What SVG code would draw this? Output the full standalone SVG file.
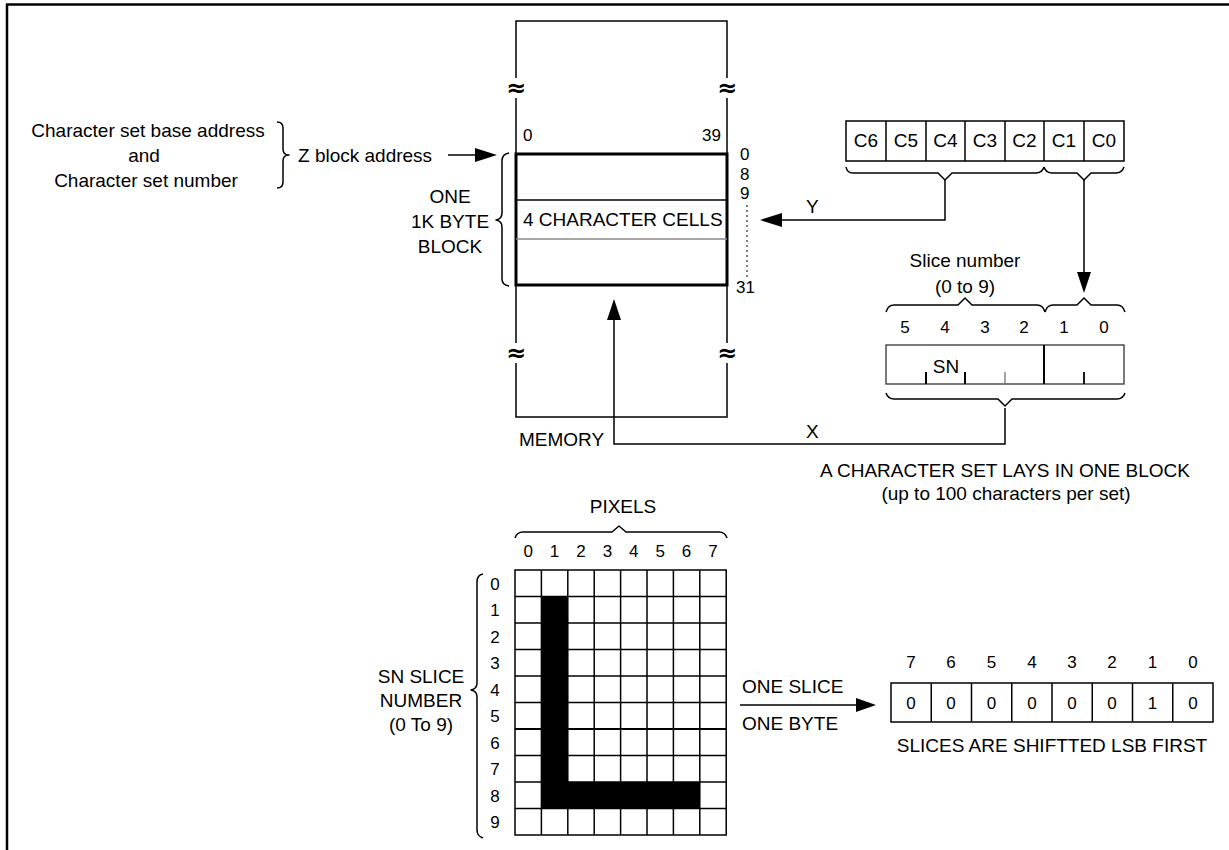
<svg xmlns="http://www.w3.org/2000/svg" width="1229" height="850" viewBox="0 0 1229 850">
<style>
text{font-family:"Liberation Sans",Arial,sans-serif;font-size:19px;fill:#000}
.d{font-size:17px}
.m{text-anchor:middle}
.e{text-anchor:end}
.ln{stroke:#000;stroke-width:1.5;fill:none}
.br{stroke:#000;stroke-width:1.5;fill:none;stroke-linejoin:round}
.thick{stroke:#000;stroke-width:3;fill:none}
.ap{fill:#000;stroke:none}
.cell{fill:#fff;stroke:#000;stroke-width:1.5}
.sq{font-family:"DejaVu Sans","Liberation Sans",sans-serif;font-size:24px;font-weight:bold;text-anchor:middle}
</style>
<rect width="1229" height="850" fill="#fff"/>
<g id="frame">
<line x1="6" y1="4.5" x2="1229" y2="4.5" stroke="#000" stroke-width="2.5"/>
<line x1="7" y1="4" x2="7" y2="850" stroke="#000" stroke-width="2.5"/>
</g>
<g id="z-source">
<text class="m" x="148" y="137">Character set base address</text>
<text class="m" x="144" y="162">and</text>
<text class="m" x="146" y="187">Character set number</text>
<path class="br" d="M277,122 Q283,122 283,128 L283,149 Q283,155 289,155 Q283,155 283,161 L283,182 Q283,188 277,188"/>
<text x="298" y="162">Z block address</text>
</g>
<g id="block-label">
<text class="m" x="450" y="203">ONE</text>
<text class="m" x="450" y="228">1K BYTE</text>
<text class="m" x="450" y="253">BLOCK</text>
<path class="br" d="M509,153 Q502,154 502,161 L502,213 Q502,219 496,220 Q502,221 502,227 L502,279 Q502,285 509,286"/>
</g>
<g id="memory">
<path class="ln" d="M516,78 L516,21 L727,21 L727,78"/>
<line class="ln" x1="516" y1="98" x2="516" y2="154"/>
<line class="ln" x1="727" y1="98" x2="727" y2="154"/>
<text class="sq" x="516" y="96">≈</text>
<text class="sq" x="727" y="96">≈</text>
<line class="ln" x1="516" y1="285" x2="516" y2="343"/>
<line class="ln" x1="727" y1="285" x2="727" y2="343"/>
<text class="sq" x="516" y="361">≈</text>
<text class="sq" x="727" y="361">≈</text>
<path class="ln" d="M516,363 L516,417 L727,417 L727,363"/>
<rect class="thick" x="516" y="154" width="211" height="131"/>
<line class="ln" x1="516" y1="200" x2="727" y2="200"/>
<line x1="516" y1="239" x2="727" y2="239" stroke="#888" stroke-width="1.5"/>
<text x="523" y="226" font-size="17.6">4 CHARACTER CELLS</text>
<text class="d" x="523" y="141">0</text>
<text class="d e" x="721" y="141">39</text>
<text class="d" x="740" y="160">0</text>
<text class="d" x="740" y="180">8</text>
<text class="d" x="740" y="199">9</text>
<line x1="747" y1="205" x2="747" y2="277" stroke="#000" stroke-width="1" stroke-dasharray="2,3"/>
<text class="d" x="736" y="293">31</text>
<text x="519" y="446">MEMORY</text>
</g>
<g id="c-register">
<rect class="cell" x="846" y="121" width="278" height="40"/>
<g class="ln">
<line x1="886" y1="121" x2="886" y2="161"/>
<line x1="926" y1="121" x2="926" y2="161"/>
<line x1="965" y1="121" x2="965" y2="161"/>
<line x1="1005" y1="121" x2="1005" y2="161"/>
<line x1="1044" y1="121" x2="1044" y2="161"/>
<line x1="1084" y1="121" x2="1084" y2="161"/>
</g>
<text class="m" x="866" y="147" font-size="18">C6</text>
<text class="m" x="906" y="147" font-size="18">C5</text>
<text class="m" x="945.5" y="147" font-size="18">C4</text>
<text class="m" x="985" y="147" font-size="18">C3</text>
<text class="m" x="1024.5" y="147" font-size="18">C2</text>
<text class="m" x="1064" y="147" font-size="18">C1</text>
<text class="m" x="1104" y="147" font-size="18">C0</text>
<path class="br" d="M846,167 Q847,173 853,173 L938,173 L945,180 L952,173 L1036,173 Q1042,173 1044,167"/>
<path class="br" d="M1044,167 Q1046,173 1052,173 L1077,173 L1084,180 L1091,173 L1116,173 Q1122,173 1124,167"/>
</g>
<g id="slice-register">
<text class="m" x="965" y="267">Slice number</text>
<text class="m" x="965" y="293">(0 to 9)</text>
<path class="br" d="M886,312 Q888,305 894,305 L958,305 L965,298 L972,305 L1037,305 Q1043,305 1045,312"/>
<path class="br" d="M1045,312 Q1047,305 1053,305 L1077,305 L1084,298 L1091,305 L1117,305 Q1123,305 1125,312"/>
<text class="d m" x="905" y="333">5</text>
<text class="d m" x="945" y="333">4</text>
<text class="d m" x="985" y="333">3</text>
<text class="d m" x="1024" y="333">2</text>
<text class="d m" x="1064" y="333">1</text>
<text class="d m" x="1104" y="333">0</text>
<rect x="886" y="345" width="238" height="39" fill="#fff" stroke="#333" stroke-width="1.3"/>
<line x1="1044" y1="345" x2="1044" y2="384" stroke="#000" stroke-width="2"/>
<line x1="926" y1="372" x2="926" y2="384" stroke="#000" stroke-width="2"/>
<line x1="965" y1="372" x2="965" y2="384" stroke="#000" stroke-width="2"/>
<line x1="1005" y1="372" x2="1005" y2="384" stroke="#666" stroke-width="1.2"/>
<line x1="1084" y1="372" x2="1084" y2="384" stroke="#000" stroke-width="1.8"/>
<text class="m" x="946" y="373">SN</text>
<path class="br" d="M886,393 Q888,399 894,399 L998,399 L1005,406 L1012,399 L1117,399 Q1123,399 1125,393"/>
<text class="m" x="1005" y="477">A CHARACTER SET LAYS IN ONE BLOCK</text>
<text class="m" x="1006" y="500">(up to 100 characters per set)</text>
</g>
<g id="pixel-grid">
<text class="m" x="623" y="513">PIXELS</text>
<path class="br" d="M515,538 Q517,532 523,532 L612,532 L619,526 L626,532 L719,532 Q725,532 727,538"/>
<text class="d m" x="528.2" y="557">0</text>
<text class="d m" x="554.6" y="557">1</text>
<text class="d m" x="581" y="557">2</text>
<text class="d m" x="607.4" y="557">3</text>
<text class="d m" x="633.8" y="557">4</text>
<text class="d m" x="660.2" y="557">5</text>
<text class="d m" x="686.6" y="557">6</text>
<text class="d m" x="713" y="557">7</text>
<text class="d m" x="495" y="590">0</text>
<text class="d m" x="495" y="616">1</text>
<text class="d m" x="495" y="643">2</text>
<text class="d m" x="495" y="669">3</text>
<text class="d m" x="495" y="696">4</text>
<text class="d m" x="495" y="722">5</text>
<text class="d m" x="495" y="749">6</text>
<text class="d m" x="495" y="775">7</text>
<text class="d m" x="495" y="802">8</text>
<text class="d m" x="495" y="828">9</text>
<path class="br" d="M483,574 Q477,575 477,582 L477,683 Q477,689 471,690 Q477,691 477,697 L477,830 Q477,836 483,838"/>
<text class="m" x="421" y="683">SN SLICE</text>
<text class="m" x="421" y="707">NUMBER</text>
<text class="m" x="421" y="731">(0 To 9)</text>
<rect x="515" y="570" width="211.2" height="265" fill="#fff"/>
<rect x="541.4" y="596.5" width="26.4" height="212" fill="#000"/>
<rect x="541.4" y="782" width="158.4" height="26.5" fill="#000"/>
<g class="ln">
<line x1="541.4" y1="570" x2="541.4" y2="835"/>
<line x1="567.8" y1="570" x2="567.8" y2="835"/>
<line x1="594.2" y1="570" x2="594.2" y2="835"/>
<line x1="620.6" y1="570" x2="620.6" y2="835"/>
<line x1="647" y1="570" x2="647" y2="835"/>
<line x1="673.4" y1="570" x2="673.4" y2="835"/>
<line x1="699.8" y1="570" x2="699.8" y2="835"/>
<line x1="515" y1="596.5" x2="726.2" y2="596.5"/>
<line x1="515" y1="623" x2="726.2" y2="623"/>
<line x1="515" y1="649.5" x2="726.2" y2="649.5"/>
<line x1="515" y1="676" x2="726.2" y2="676"/>
<line x1="515" y1="702.5" x2="726.2" y2="702.5"/>
<line x1="515" y1="729" x2="726.2" y2="729" stroke-width="2.2"/>
<line x1="515" y1="755.5" x2="726.2" y2="755.5"/>
<line x1="515" y1="782" x2="726.2" y2="782"/>
<line x1="515" y1="808.5" x2="726.2" y2="808.5"/>
<rect x="515" y="570" width="211.2" height="265"/>
</g>
</g>
<g id="byte-register">
<text x="742" y="693">ONE SLICE</text>
<text x="742" y="730">ONE BYTE</text>
<rect class="cell" x="891" y="683" width="322" height="39"/>
<g class="ln">
<line x1="931.25" y1="683" x2="931.25" y2="722"/>
<line x1="971.5" y1="683" x2="971.5" y2="722"/>
<line x1="1011.75" y1="683" x2="1011.75" y2="722"/>
<line x1="1052" y1="683" x2="1052" y2="722"/>
<line x1="1092.25" y1="683" x2="1092.25" y2="722"/>
<line x1="1132.5" y1="683" x2="1132.5" y2="722"/>
<line x1="1172.75" y1="683" x2="1172.75" y2="722"/>
</g>
<text class="d m" x="911" y="668">7</text>
<text class="d m" x="951" y="668">6</text>
<text class="d m" x="991.5" y="668">5</text>
<text class="d m" x="1032" y="668">4</text>
<text class="d m" x="1072" y="668">3</text>
<text class="d m" x="1112" y="668">2</text>
<text class="d m" x="1152.5" y="668">1</text>
<text class="d m" x="1193" y="668">0</text>
<text class="d m" x="911" y="709">0</text>
<text class="d m" x="951" y="709">0</text>
<text class="d m" x="991.5" y="709">0</text>
<text class="d m" x="1032" y="709">0</text>
<text class="d m" x="1072" y="709">0</text>
<text class="d m" x="1112" y="709">0</text>
<text class="d m" x="1152.5" y="709">1</text>
<text class="d m" x="1193" y="709">0</text>
<text class="m" x="1052" y="752">SLICES ARE SHIFTTED LSB FIRST</text>
</g>
<g id="connectors">
<line class="ln" x1="448" y1="155" x2="477" y2="155"/>
<polygon class="ap" points="497,155 475,148 475,162"/>
<polyline class="ln" points="945,180 945,220 780,220"/>
<polygon class="ap" points="760,220 782,213 782,227"/>
<text x="806" y="213">Y</text>
<line class="ln" x1="1084" y1="180" x2="1084" y2="275"/>
<polygon class="ap" points="1084,293 1077,272 1091,272"/>
<polyline class="ln" points="1005,408 1005,444 614,444 614,318"/>
<polygon class="ap" points="614,299 607,320 621,320"/>
<text x="806" y="438">X</text>
<line class="ln" x1="740" y1="705" x2="858" y2="705"/>
<polygon class="ap" points="876,705 856,698 856,712"/>
</g>
</svg>
